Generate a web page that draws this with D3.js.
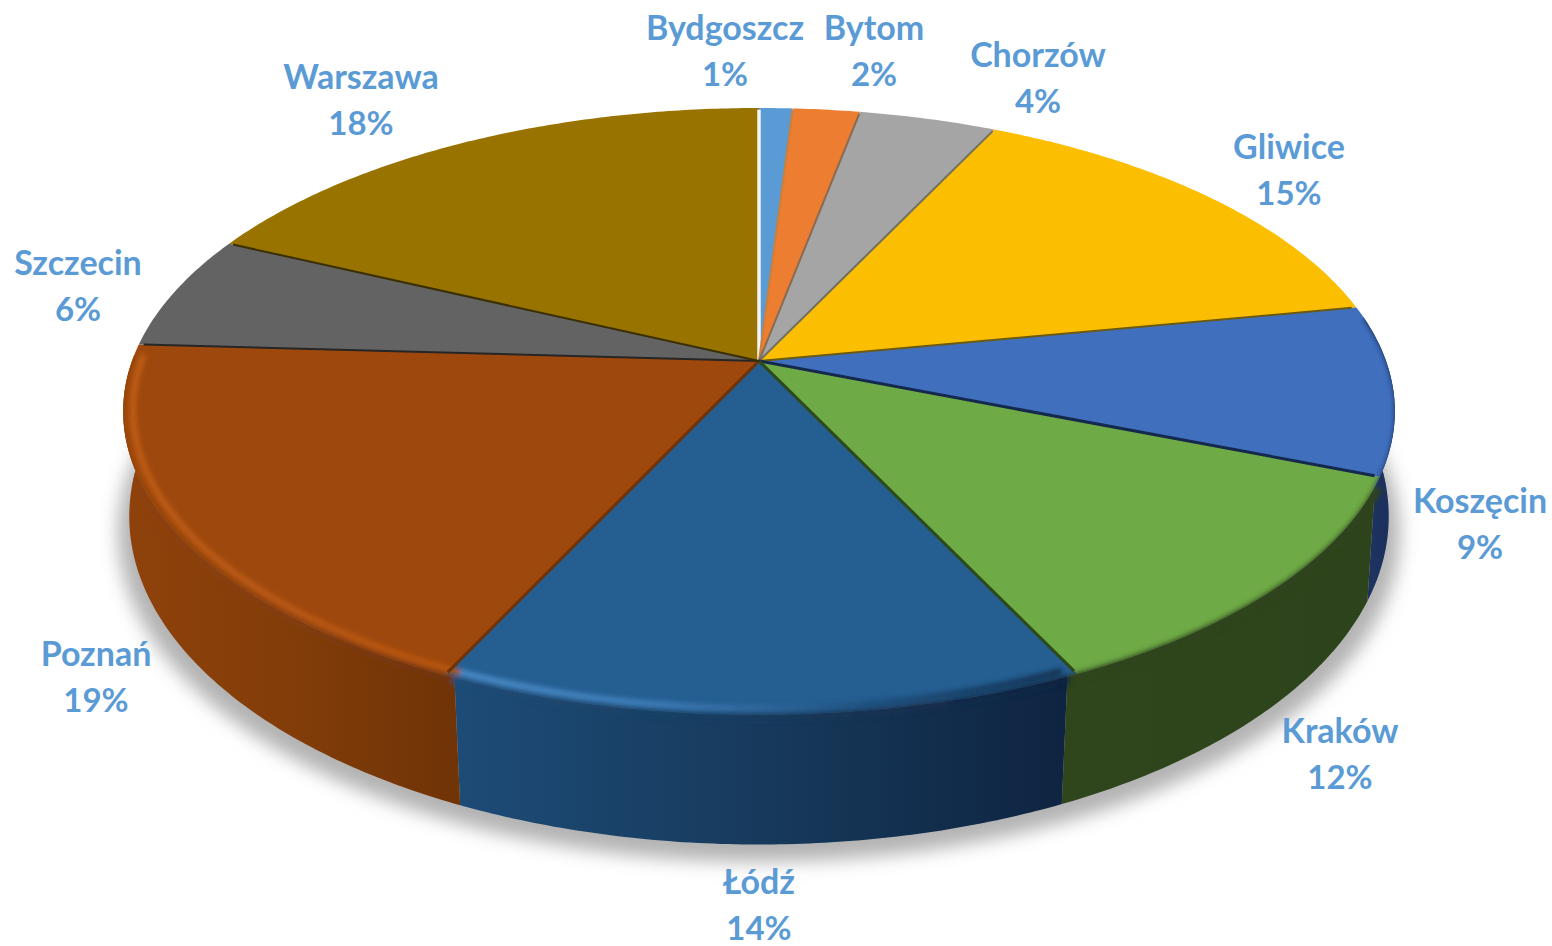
<!DOCTYPE html>
<html lang="en">
<head>
<meta charset="UTF-8">
<script src="https://d3js.org/d3.v7.min.js"></script>
<style>
  html, body { margin: 0; background: #fff; }
  svg { display: block; }
  text { font-family: Lato, "Open Sans", sans-serif; font-weight: 700; font-size: 33px; fill: #5b9bd5; text-anchor: middle; }
  .city { font-size: 34px; }
</style>
</head>
<body>
<div id="plot"></div>
<script>
  // data
  const cities = ["Bydgoszcz", "Bytom", "Chorzów", "Gliwice", "Koszęcin", "Kraków", "Łódź", "Poznań", "Szczecin", "Warszawa"];
  const shares = [1.0, 2.0, 4.1, 14.9, 9.0, 11.9, 14.1, 18.9, 6.1, 18.0];

  // styling
  const topColors = ["#5b9bd5", "#ed7d31", "#a5a5a5", "#fcbe00", "#406fbe", "#6eaa46", "#255e91", "#9e480e", "#636363", "#997300"];
  const edgeColors = ["#f4f4f4", "#c8803f", "#8a6a50", "#6f6f60", "#6b5a12", "#14294d", "#2d4a1b", "#6e3208", "#262626", "#3a2f00"];
  const wallColors = [
    ["#33567a", "#33567a"], ["#8a4a1d", "#8a4a1d"], ["#606060", "#606060"], ["#8f6c00", "#8f6c00"],
    ["#1e3564", "#1b2f5a"], ["#2f451c", "#2d431b"], ["#1d4c78", "#173a5c", "#0e2340"],
    ["#8f420b", "#833d09", "#713407"], ["#3a3a3a", "#3a3a3a"], ["#594300", "#594300"]
  ];
  const rimColors = [null, null, null, null, ["#1e3564", "#1e3564"], ["#2f451c", "#2d431b"],
    ["#4d8fcb", "#3f7fba", "#1f4f7d", "#122b4a"], ["#c05e16", "#bb5a14", "#b8560f"], null, null];

  // label anchors: centre x, then baseline of the first of the two lines
  const labelX = [725, 874, 1038, 1289, 1480, 1340, 759, 96, 78, 361];
  const labelY = [40, 40, 67, 159, 513, 743, 894, 666, 275, 89];
  const lineGap = 46;

  const width = 1552, height = 946;
  const tilt = 0.166;

  // unit disc coordinates (after perspective) to screen, top face and bottom face
  const topX = d3.scaleLinear().domain([-1, 1]).range([759 - 627, 759 + 627]);
  const topY = d3.scaleLinear().domain([-1, 1]).range([361 - 295, 361 + 295]);
  const botX = d3.scaleLinear().domain([-1, 1]).range([759 - 621, 759 + 621]);
  const botY = d3.scaleLinear().domain([-1, 1]).range([462 - 319, 462 + 319]);
  const shadowX = d3.scaleLinear().domain([-1, 1]).range([759 - 632, 759 + 632]);
  const shadowY = d3.scaleLinear().domain([-1, 1]).range([478 - 320, 478 + 320]);

  function project(sx, sy, a, r) {
    const u = r * Math.sin(a), v = -r * Math.cos(a), w = 1 - tilt * v;
    return [sx(u / w), sy(v / w)];
  }
  const onTop = (a, r = 1) => project(topX, topY, a, r);
  const onBot = (a, r = 1) => project(botX, botY, a, r);

  function arcAngles(a0, a1) {
    const n = Math.max(2, Math.ceil((a1 - a0) / 0.01));
    return d3.range(n + 1).map(i => a0 + (a1 - a0) * i / n);
  }
  // the side wall corners sit a little inside the radial edge of the top face
  const wallTop = a => a + 0.035 * Math.sin(a);
  const wallBot = a => a + 0.045 * Math.sin(a);

  const line = d3.line();
  const arcs = d3.pie().sort(null)(shares);

  const svg = d3.select("#plot").append("svg").attr("width", width).attr("height", height);
  const defs = svg.append("defs");

  defs.append("filter").attr("id", "shadowBlur").attr("x", "-10%").attr("y", "-10%").attr("width", "120%").attr("height", "120%")
    .append("feGaussianBlur").attr("stdDeviation", 9);
  defs.append("filter").attr("id", "rimBlur").attr("filterUnits", "userSpaceOnUse")
    .attr("x", 0).attr("y", 0).attr("width", width).attr("height", height)
    .append("feGaussianBlur").attr("stdDeviation", 2.6);

  function hGradient(id, stops, x0, x1) {
    const g = defs.append("linearGradient").attr("id", id).attr("gradientUnits", "userSpaceOnUse")
      .attr("x1", x0).attr("x2", x1).attr("y1", 0).attr("y2", 0);
    stops.forEach((c, i) => g.append("stop").attr("offset", i / (stops.length - 1)).attr("stop-color", c));
  }

  // shadow under the disc
  const shadowRing = arcAngles(Math.PI * 0.42, Math.PI * 1.58).map(a => project(shadowX, shadowY, a, 1));
  svg.append("path").attr("d", line(shadowRing) + "Z").attr("fill", "#b3b3b3").attr("filter", "url(#shadowBlur)");

  // side walls
  const wallPath = d => {
    const upper = arcAngles(wallTop(d.startAngle), wallTop(d.endAngle)).map(a => onTop(a));
    const lower = arcAngles(wallBot(d.startAngle), wallBot(d.endAngle)).map(a => onBot(a)).reverse();
    return line(upper.concat(lower)) + "Z";
  };
  arcs.forEach((d, i) => {
    const xs = arcAngles(d.startAngle, d.endAngle).map(a => onTop(a)[0]);
    hGradient("wall" + i, wallColors[i], d3.min(xs), d3.max(xs));
    if (rimColors[i]) hGradient("rim" + i, rimColors[i], d3.min(xs), d3.max(xs));
  });
  const visible = arcs.map((d, i) => i).filter(i => rimColors[i]);
  svg.append("g").selectAll("path").data(visible).join("path")
    .attr("d", i => wallPath(arcs[i]))
    .attr("fill", i => `url(#wall${i})`);

  // top face slices
  const facePath = d => line([onTop(0, 0)].concat(arcAngles(d.startAngle, d.endAngle).map(a => onTop(a)))) + "Z";
  svg.append("g").selectAll("path").data(arcs).join("path")
    .attr("d", facePath)
    .attr("fill", (d, i) => topColors[i]);

  // soft bevel along the front rim, kept inside the solid
  const clip = defs.append("clipPath").attr("id", "solid");
  visible.forEach(i => {
    clip.append("path").attr("d", wallPath(arcs[i]));
    clip.append("path").attr("d", facePath(arcs[i]));
  });
  const rimLine = (d, r) => line(arcAngles(wallTop(d.startAngle), wallTop(d.endAngle)).map(a => onTop(a, r)));
  const bevel = svg.append("g").attr("clip-path", "url(#solid)")
    .append("g").attr("filter", "url(#rimBlur)");
  // wall colour first so no strip of the face shows outside the highlight
  bevel.selectAll("path.under").data(visible).join("path").attr("class", "under")
    .attr("d", i => rimLine(arcs[i], 1.006))
    .attr("fill", "none")
    .attr("stroke", i => `url(#wall${i})`)
    .attr("stroke-width", 8);
  bevel.selectAll("path.over").data(visible.filter(i => i >= 6)).join("path").attr("class", "over")
    .attr("d", i => rimLine(arcs[i], 0.985))
    .attr("fill", "none")
    .attr("stroke", i => `url(#rim${i})`)
    .attr("stroke-width", 6);

  // dark separators between slices, white one at twelve o'clock
  svg.append("g").selectAll("line").data(arcs).join("line")
    .attr("x1", onTop(0, 0)[0]).attr("y1", onTop(0, 0)[1])
    .attr("x2", d => onTop(d.startAngle, 0.992)[0])
    .attr("y2", d => onTop(d.startAngle, 0.992)[1])
    .attr("stroke", (d, i) => edgeColors[i])
    .attr("stroke-width", (d, i) => i === 0 ? 3.5 : (i >= 5 && i <= 7 ? 3 : 2));

  // labels
  const labels = svg.append("g").selectAll("text").data(cities).join("text")
    .attr("x", (d, i) => labelX[i])
    .attr("y", (d, i) => labelY[i]);
  labels.append("tspan").attr("class", "city").text(d => d);
  labels.append("tspan")
    .attr("x", (d, i) => labelX[i])
    .attr("dy", lineGap)
    .text((d, i) => d3.format(".0f")(shares[i]) + "%");
</script>
</body>
</html>
